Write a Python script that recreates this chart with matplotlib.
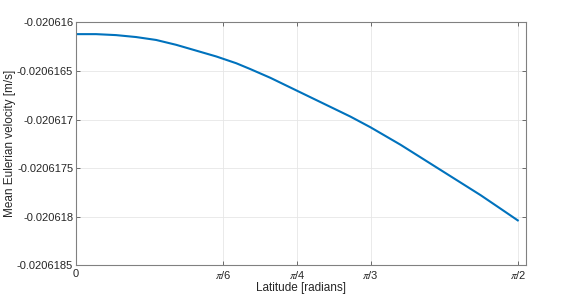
import numpy as np
import matplotlib
matplotlib.use('Agg')
import matplotlib.pyplot as plt

# latitude [rad] and mean Eulerian velocity [m/s]
latitude = [0.0, 0.0712, 0.1425, 0.2137, 0.2849, 0.3561, 0.4274, 0.4986,
            0.5698, 0.6197, 0.6909, 0.7621, 0.8333, 0.9046, 0.9758, 1.047,
            1.1182, 1.1538, 1.2251, 1.2963, 1.3675, 1.4387, 1.51, 1.5708]
velocity = [-0.02061612, -0.02061612, -0.02061613, -0.02061615, -0.02061618,
            -0.02061623, -0.02061629, -0.02061635, -0.02061642, -0.02061648,
            -0.02061657, -0.02061667, -0.02061677, -0.02061687, -0.02061697,
            -0.02061708, -0.02061720, -0.02061726, -0.02061739, -0.02061752,
            -0.02061765, -0.02061778, -0.02061792, -0.02061804]

xticks = [0, np.pi / 6, np.pi / 4, np.pi / 3, np.pi / 2]
xticklabels = ['0', r'$\pi$/6', r'$\pi$/4', r'$\pi$/3', r'$\pi$/2']
yticks = [-0.0206185, -0.020618, -0.0206175, -0.020617, -0.0206165, -0.020616]
yticklabels = ['-0.0206185', '-0.020618', '-0.0206175', '-0.020617',
               '-0.0206165', '-0.020616']

plt.rcParams['font.family'] = ['Liberation Sans', 'DejaVu Sans']
plt.rcParams['mathtext.fontset'] = 'stix'

fig = plt.figure(figsize=(5.81, 2.98), dpi=100)
ax = fig.add_axes([0.1308, 0.1107, 0.7745, 0.8138])

ax.plot(latitude, velocity, color='#0072BD', lw=1.5)

ax.set_xlim(0, 1.6)
ax.set_ylim(-0.0206185, -0.020616)
ax.set_xticks(xticks)
ax.set_xticklabels(xticklabels)
ax.set_yticks(yticks)
ax.set_yticklabels(yticklabels)

ax.grid(True, color='#e6e6e6', lw=0.6)
ax.set_axisbelow(True)
for s in ax.spines.values():
    s.set_color('#808080')
    s.set_linewidth(0.8)
ax.tick_params(direction='in', length=3, width=0.6, color='#555555',
               labelsize=8, labelcolor='#262626', top=True, right=True, pad=2)
ax.tick_params(axis='x', pad=3)

ax.set_xlabel('Latitude [radians]', fontsize=8.5, color='#262626', labelpad=0.5)
ax.set_ylabel('Mean Eulerian velocity [m/s]', fontsize=8.5, color='#262626', labelpad=1)

fig.savefig('out.png', dpi=100)
